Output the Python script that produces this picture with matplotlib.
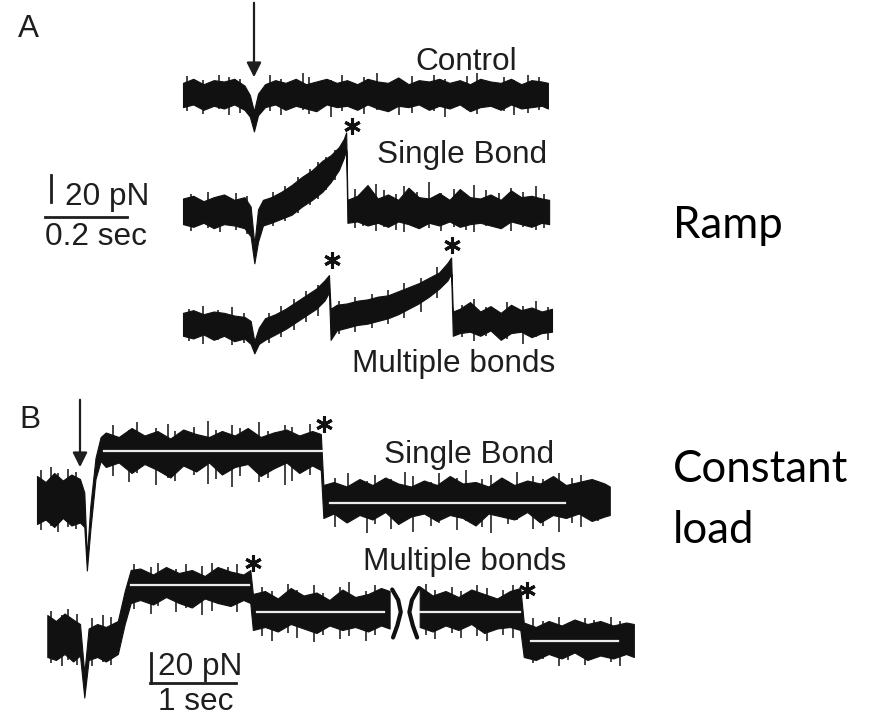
import matplotlib.pyplot as plt

# ---------------- figure size (pixels) ----------------
W, H = 879, 717

# ---------------- panel A : ramp, time in s, force in pN ----------------
# scale bar: 0.2 s = 82 px, 20 pN = 27 px
A_PX_S, A_PX_PN = 410.0, 1.35

ctrl_t = [0.000, 0.025, 0.050, 0.075, 0.100, 0.125, 0.150, 0.163, 0.173, 0.183,
          0.200, 0.225, 0.250, 0.275, 0.300, 0.325, 0.350, 0.375, 0.400, 0.425,
          0.450, 0.475, 0.500, 0.525, 0.550, 0.575, 0.600, 0.625, 0.650, 0.675,
          0.700, 0.725, 0.750, 0.775, 0.800, 0.825, 0.850, 0.875, 0.890]
ctrl_up = [9, 12, 8, 11, 10, 12, 7, 0, -12, 1, 8, 11, 9, 12, 8, 10, 12, 9, 11, 8,
           12, 10, 9, 13, 8, 11, 10, 12, 9, 11, 8, 12, 10, 9, 12, 8, 11, 10, 9]
ctrl_lo = [-9, -7, -11, -8, -10, -7, -11, -16, -27, -15, -9, -7, -11, -8, -10, -12,
           -7, -9, -8, -11, -7, -10, -12, -8, -9, -7, -11, -8, -10, -7, -12, -9, -8,
           -11, -7, -10, -9, -8, -10]
ctrl_spk_t = [0.01, 0.048, 0.088, 0.112, 0.138, 0.212, 0.238, 0.292, 0.308, 0.362,
              0.388, 0.442, 0.472, 0.528, 0.558, 0.612, 0.638, 0.692, 0.718, 0.782,
              0.808, 0.842, 0.868]
ctrl_spk_lo = [-12, -14, -10, -15, -13, -12, -15, -11, -14, -16, -12, -14,
               -11, -15, -13, -12, -16, -11, -14, -12, -15, -13, -11]
ctrl_spk_hi = [14, 11, 15, 13, 12, 15, 12, 16, 13, 11, 15, 13,
               16, 12, 14, 15, 12, 14, 16, 13, 11, 15, 13]

sing_t = [0.000, 0.025, 0.050, 0.075, 0.100, 0.125, 0.150, 0.165, 0.174, 0.183,
          0.195, 0.215, 0.240, 0.265, 0.290, 0.315, 0.340, 0.360, 0.380, 0.392,
          0.398, 0.401, 0.425, 0.450, 0.475, 0.500, 0.525, 0.550, 0.575, 0.600,
          0.625, 0.650, 0.675, 0.700, 0.725, 0.750, 0.775, 0.800, 0.825, 0.850,
          0.875, 0.893]
sing_up = [10, 12, 8, 11, 13, 9, 11, 4, -24, 2, 9,
           11, 15, 20, 26, 31, 38, 42, 48, 54, 59,
           9, 12, 20, 10, 13, 9, 18, 11, 10, 14, 9, 17, 11, 10, 13, 9, 16, 11, 12, 10, 9]
sing_lo = [-9, -11, -8, -12, -9, -10, -12, -18, -38, -22, -10,
           -8, -5, -2, 4, 9, 15, 22, 31, 40, 46,
           -8, -7, -10, -8, -11, -7, -9, -12, -8, -10, -7, -11, -9, -8, -10, -12, -7,
           -9, -11, -8, -9]
sing_spk_t = [0.02, 0.06, 0.09, 0.13, 0.155, 0.22, 0.25, 0.28, 0.31, 0.33, 0.35, 0.37,
              0.42, 0.44, 0.47, 0.49, 0.52, 0.54, 0.57, 0.60, 0.63, 0.66, 0.69, 0.71,
              0.74, 0.77, 0.80, 0.83, 0.86, 0.88]
sing_spk_lo = [-14, -12, -15, -13, -16, -10, -7, -1, 5, 10, 16, 24,
               -12, -10, -14, -11, -13, -15, -10, -12, -14, -11, -13, -15,
               -10, -12, -14, -11, -13, -12]
sing_spk_hi = [13, 15, 12, 14, 12, 15, 19, 26, 32, 37, 41, 46,
               17, 14, 21, 16, 13, 19, 15, 22, 14, 17, 13, 20,
               16, 14, 18, 15, 19, 13]

mult_t = [0.000, 0.025, 0.050, 0.075, 0.100, 0.125, 0.150, 0.165, 0.174, 0.185,
          0.200, 0.225, 0.250, 0.275, 0.300, 0.325, 0.345, 0.356,
          0.360,
          0.375, 0.400, 0.425, 0.450, 0.475, 0.500, 0.525, 0.550, 0.575, 0.600,
          0.625, 0.645, 0.654,
          0.658,
          0.675, 0.700, 0.725, 0.750, 0.775, 0.800, 0.825, 0.850, 0.875, 0.900]
mult_up = [9, 11, 8, 10, 9, 7, 6, 3, -12, -2,
           5, 8, 12, 17, 22, 27, 33, 37,
           12,
           15, 16, 18, 19, 21, 22, 25, 28, 31, 35, 39, 46, 50,
           10,
           12, 17, 10, 14, 9, 15, 11, 13, 10, 12]
mult_lo = [-8, -10, -7, -11, -8, -12, -10, -14, -21, -14,
           -11, -7, -3, 2, 7, 12, 18, 24,
           -11,
           -4, -2, 0, 1, 3, 5, 8, 12, 16, 21, 27, 33, 38,
           -8,
           -6, -5, -8, -4, -11, -6, -5, -9, -6, -5]
mult_spk_t = [0.015, 0.05, 0.085, 0.12, 0.15, 0.21, 0.24, 0.27, 0.30, 0.33,
              0.38, 0.42, 0.46, 0.50, 0.54, 0.58, 0.62, 0.68, 0.71, 0.74,
              0.79, 0.83, 0.86, 0.89]
mult_spk_lo = [-12, -14, -11, -15, -13, -13, -9, -4, 2, 7,
               -7, -5, -2, 1, 5, 10, 20, -9, -12, -8,
               -10, -14, -9, -11]
mult_spk_hi = [12, 14, 11, 13, 9, 9, 14, 19, 25, 30,
               18, 21, 23, 26, 31, 35, 43, 15, 19, 13,
               17, 14, 18, 13]

# rupture events (asterisks)
sing_star_t, sing_star_f = [0.412], [64]
mult_star_t, mult_star_f = [0.363, 0.656], [48, 59]

# ---------------- panel B : constant load ----------------
# scale bar: 1 s = 86 px, 20 pN = 30 px
B_PX_S, B_PX_PN = 86.0, 1.5

bs_t = [0.00, 0.10, 0.20, 0.30, 0.40, 0.50,
        0.55, 0.58, 0.62, 0.68, 0.74,
        0.80, 0.95, 1.10, 1.25, 1.40, 1.55, 1.70, 1.85, 2.00, 2.15, 2.30, 2.45,
        2.60, 2.75, 2.90, 3.05, 3.20, 3.30,
        3.33, 3.45, 3.60, 3.75, 3.90, 4.05, 4.20, 4.35, 4.50, 4.65, 4.80, 4.95,
        5.10, 5.25, 5.40, 5.55, 5.70, 5.85, 6.00, 6.15, 6.30, 6.45, 6.60, 6.66]
bs_up = [16, 12, 18, 13, 17, 14,
         5, -38, -4, 28, 42,
         45, 42, 48, 43, 46, 41, 47, 44, 42, 46, 43, 48, 42, 45, 47, 43, 46, 44,
         10, 12, 9, 14, 10, 15, 11, 9, 13, 10, 16, 11, 12, 9, 15, 10, 13, 11, 16,
         10, 12, 14, 11, 9]
bs_lo = [-16, -13, -18, -12, -17, -15,
         -18, -47, -20, 14, 26,
         22, 25, 18, 24, 20, 15, 23, 19, 25, 17, 22, 24, 16, 21, 25, 18, 23, 20,
         -12, -9, -15, -10, -13, -8, -16, -11, -9, -14, -10, -12, -17, -9, -11,
         -13, -8, -15, -10, -12, -9, -14, -11, -10]
bs_spk_t = [0.05, 0.16, 0.24, 0.36, 0.45,
            0.88, 1.07, 1.16, 1.38, 1.52, 1.61, 1.83, 1.99, 2.08, 2.27, 2.36, 2.58,
            2.69, 2.88, 2.97, 3.18,
            3.47, 3.62, 3.84, 3.93, 4.12, 4.28, 4.37, 4.58, 4.68, 4.88, 4.99, 5.17,
            5.28, 5.48, 5.58, 5.77, 5.88, 6.07, 6.22, 6.33, 6.52]
bs_spk_lo = [-20, -17, -21, -18, -19,
             16, 12, 18, 10, 15, 13, 17, 11, 14, 9, 16, 12, 15, 10, 13, 17,
             -18, -14, -22, -16, -19, -13, -21, -17, -15, -20, -14, -18, -22, -16,
             -13, -19, -17, -21, -15, -18, -14]
bs_spk_hi = [20, 22, 18, 21, 19,
             50, 47, 52, 48, 51, 46, 49, 53, 47, 50, 48, 52, 46, 50, 49, 51,
             15, 18, 13, 17, 14, 19, 16, 12, 18, 15, 20, 14, 17, 13, 19, 16, 14,
             18, 15, 17, 13]
bs_fit_t = [(0.78, 3.31), (3.41, 6.14)]
bs_fit_f = [32.7, -2]
bs_star_t, bs_star_f = [3.34], [51]

bm1_t = [0.12, 0.22, 0.32, 0.42, 0.50, 0.55, 0.60, 0.70, 0.80, 0.94, 1.02, 1.09,
         1.20, 1.35, 1.50, 1.65, 1.80, 1.95, 2.10, 2.25, 2.40, 2.48, 2.51,
         2.65, 2.80, 2.95, 3.10, 3.25, 3.40, 3.55, 3.70, 3.85, 4.00, 4.10]
bm1_up = [14, 10, 15, 11, 8, -25, 5, 8, 6, 10, 30, 44,
          45, 41, 46, 42, 44, 40, 46, 43, 41, 44, 28,
          30, 25, 32, 27, 29, 24, 31, 26, 28, 32, 30]
bm1_lo = [-14, -16, -12, -17, -13, -41, -16, -14, -17, -12, 8, 22,
          24, 21, 26, 22, 19, 25, 22, 20, 24, 22, 4,
          6, 3, 8, 5, 2, 7, 4, 6, 3, 7, 5]
bm2_t = [4.45, 4.60, 4.75, 4.90, 5.05, 5.20, 5.35, 5.50, 5.62, 5.66,
         5.80, 5.95, 6.10, 6.25, 6.40, 6.55, 6.70, 6.85, 6.94]
bm2_up = [33, 27, 30, 26, 31, 28, 25, 30, 32, 9, 6, 10, 7, 11, 8, 10, 7, 9, 8]
bm2_lo = [6, 3, 7, 4, 8, 2, 5, 6, 4, -14, -16, -12, -15, -11, -16, -13, -15, -12, -14]
bm_spk_t = [0.16, 0.29, 0.36, 0.47, 0.64, 0.77, 0.86,
            1.13, 1.32, 1.41, 1.62, 1.73, 1.92, 2.03, 2.22, 2.33,
            2.62, 2.73, 2.92, 3.02, 3.22, 3.33, 3.52, 3.63, 3.82, 3.93,
            4.52, 4.63, 4.82, 4.93, 5.12, 5.23, 5.42, 5.53,
            5.77, 5.88, 6.07, 6.18, 6.37, 6.48, 6.67, 6.78]
bm_spk_lo = [-18, -20, -16, -19, -20, -17, -19,
             18, 15, 20, 16, 19, 14, 17, 20, 16,
             0, -3, 2, -1, -4, 1, -2, 0, -3, 1,
             1, -2, 2, -1, 0, -3, 1, -1,
             -18, -15, -20, -16, -19, -14, -17, -20]
bm_spk_hi = [17, 14, 18, 15, 12, 14, 13,
             48, 46, 49, 45, 48, 47, 49, 46, 48,
             33, 30, 35, 31, 34, 29, 33, 36, 30, 34,
             35, 31, 33, 30, 34, 32, 31, 34,
             12, 10, 13, 9, 12, 11, 13, 10]
bm_fit_t = [(1.09, 2.47), (2.56, 4.03), (4.45, 5.62), (5.74, 6.76)]
bm_fit_f = [34, 16, 16, -3]
bm_star_t, bm_star_f = [2.51, 5.70], [49, 31]
# axis-break marks
brk1_t, brk1_f = [4.13, 4.20, 4.23, 4.19, 4.14], [31, 24, 16, 7, -1]
brk2_t, brk2_f = [4.44, 4.36, 4.33, 4.37, 4.42], [32, 24, 16, 7, -1]

INK = '#111111'
TXT = '#1e1e1e'
plt.rcParams['font.family'] = ['Liberation Sans', 'DejaVu Sans']

fig = plt.figure(figsize=(W / 100, H / 100), dpi=100)
bg = fig.add_axes([0, 0, 1, 1])
bg.set_xlim(0, W)
bg.set_ylim(H, 0)
bg.set_axis_off()


def trace_axes(x0, y0, px_s, px_pn, tlim, flim):
    # axes where t=0 sits at pixel x0 and F=0 at pixel y0
    left = x0 + tlim[0] * px_s
    right = x0 + tlim[1] * px_s
    top = y0 - flim[1] * px_pn
    bottom = y0 - flim[0] * px_pn
    ax = fig.add_axes([left / W, 1 - bottom / H, (right - left) / W, (bottom - top) / H])
    ax.set_xlim(tlim)
    ax.set_ylim(flim)
    ax.set_axis_off()
    ax.patch.set_alpha(0)
    return ax


def band(ax, t, lo, up):
    ax.fill_between(t, lo, up, color=INK, lw=0.8, edgecolor=INK)


def spikes(ax, t, lo, hi):
    ax.vlines(t, lo, hi, color=INK, lw=1.1)


def stars(ax, t, f):
    ax.plot(t, f, ls='none', marker=(6, 2, 0), ms=12, mew=2.2, color=INK, clip_on=False)


# ---- A traces ----
ax = trace_axes(183, 95, A_PX_S, A_PX_PN, (-0.05, 1.0), (-60, 80))
band(ax, ctrl_t, ctrl_lo, ctrl_up)
spikes(ax, ctrl_spk_t, ctrl_spk_lo, ctrl_spk_hi)

ax = trace_axes(183, 212, A_PX_S, A_PX_PN, (-0.05, 1.0), (-60, 80))
band(ax, sing_t, sing_lo, sing_up)
spikes(ax, sing_spk_t, sing_spk_lo, sing_spk_hi)
stars(ax, sing_star_t, sing_star_f)

ax = trace_axes(183, 325, A_PX_S, A_PX_PN, (-0.05, 1.0), (-60, 80))
band(ax, mult_t, mult_lo, mult_up)
spikes(ax, mult_spk_t, mult_spk_lo, mult_spk_hi)
stars(ax, mult_star_t, mult_star_f)

# ---- A scale bar ----
ax = trace_axes(45, 217, A_PX_S, A_PX_PN, (-0.05, 0.3), (-10, 40))
ax.plot([0, 0.2], [0, 0], color=TXT, lw=2)
ax.plot([0.015, 0.015], [11, 31], color=TXT, lw=2)

# ---- B traces ----
ax = trace_axes(37, 500, B_PX_S, B_PX_PN, (-0.2, 7.2), (-60, 70))
band(ax, bs_t, bs_lo, bs_up)
spikes(ax, bs_spk_t, bs_spk_lo, bs_spk_hi)
for (t0, t1), f in zip(bs_fit_t, bs_fit_f):
    ax.plot([t0, t1], [f, f], color='#ececec', lw=1.6)
stars(ax, bs_star_t, bs_star_f)

ax = trace_axes(37, 636, B_PX_S, B_PX_PN, (-0.2, 7.2), (-60, 70))
band(ax, bm1_t, bm1_lo, bm1_up)
band(ax, bm2_t, bm2_lo, bm2_up)
spikes(ax, bm_spk_t, bm_spk_lo, bm_spk_hi)
for (t0, t1), f in zip(bm_fit_t, bm_fit_f):
    ax.plot([t0, t1], [f, f], color='#ececec', lw=1.6)
ax.plot(brk1_t, brk1_f, color=INK, lw=3, solid_capstyle='round')
ax.plot(brk2_t, brk2_f, color=INK, lw=3, solid_capstyle='round')
stars(ax, bm_star_t, bm_star_f)

# ---- B scale bar ----
ax = trace_axes(150, 683, B_PX_S, B_PX_PN, (-0.1, 1.2), (-5, 30))
ax.plot([0, 1], [0, 0], color=TXT, lw=2)
ax.plot([0.01, 0.01], [0, 20], color=TXT, lw=2)

# ---- arrows ----
bg.annotate('', xy=(254, 80), xytext=(254, 0),
            arrowprops=dict(arrowstyle='-|>', color=TXT, lw=1.6, mutation_scale=22))
bg.annotate('', xy=(80, 470), xytext=(80, 397),
            arrowprops=dict(arrowstyle='-|>', color=TXT, lw=1.6, mutation_scale=22))

# ---- labels ----
labels = [("A", 18, 37), ("Control", 415, 70), ("Single Bond", 377, 163),
          ("Multiple bonds", 352, 372), ("B", 19, 428), ("Single Bond", 384, 463),
          ("Multiple bonds", 363, 570), ("20 pN", 65, 205), ("0.2 sec", 45, 245),
          ("20 pN", 158, 675), ("1 sec", 158, 710)]
for s, x, y in labels:
    bg.text(x, y, s, fontsize=22.7, color=TXT, ha='left', va='baseline')

bg.text(673, 238, "Ramp", fontsize=31.5, family=['Lato', 'DejaVu Sans'],
        color='black', ha='left', va='baseline')
bg.text(673, 482, "Constant", fontsize=31.5, family=['Lato', 'DejaVu Sans'],
        color='black', ha='left', va='baseline')
bg.text(673, 543, "load", fontsize=31.5, family=['Lato', 'DejaVu Sans'],
        color='black', ha='left', va='baseline')

fig.savefig('out.png', dpi=100)
